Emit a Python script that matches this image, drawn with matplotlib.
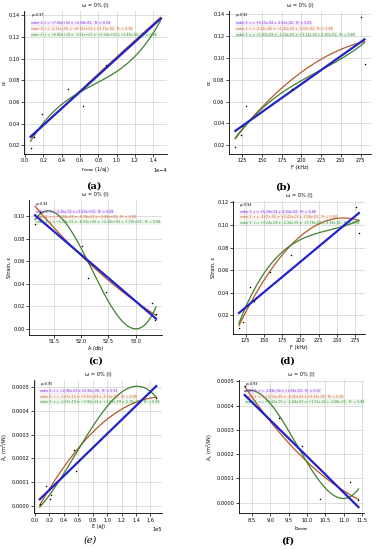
"""
Six polynomial-fit panels (order 1/2/3) for the w = 0% (I) series.
Curves come from np.polyfit through points read along each fitted line.
"""
import numpy as np
import matplotlib
matplotlib.use("Agg")
import matplotlib.pyplot as plt
from matplotlib.ticker import MultipleLocator

TITLE = "ω = 0% (I)"

# --- scatter data (x in plotted units; scale below converts to real units) ---
A_X = [0.06, 0.10, 0.18, 0.47, 0.63, 0.88, 1.48]          # x 1e-4
A_Y = [0.018, 0.028, 0.049, 0.072, 0.056, 0.094, 0.137]
B_X = [116, 123, 125, 130, 188, 276, 280]
B_Y = [0.018, 0.029, 0.038, 0.056, 0.072, 0.137, 0.094]
C_X = [51.16, 51.25, 52.02, 52.13, 52.46, 53.29, 53.35, 53.37]
C_Y = [0.093, 0.104, 0.074, 0.045, 0.033, 0.023, 0.008, 0.013]
D_X = [116, 122, 131, 137, 158, 187, 276, 280]
D_Y = [0.009, 0.014, 0.045, 0.033, 0.058, 0.073, 0.116, 0.093]
E_X = [0.07, 0.15, 0.21, 0.22, 0.55, 0.57, 1.68]           # x 1e5
E_Y = [0.000010, 0.000083, 0.000028, 0.000045, 0.000234, 0.000147, 0.000455]
F_X = [8.30, 9.24, 9.87, 10.35, 11.17, 11.40]
F_Y = [0.000480, 0.000347, 0.000234, 0.000015, 0.000084, 0.000010]

# --- points: (x list, y list) per order ---
A_FIT1 = ([0.06, 1.48], [0.0280, 0.1368])
A_FIT2 = ([0.06, 0.75, 1.48], [0.0270, 0.0820, 0.1379])
A_FIT3 = ([0.06, 0.50, 1.00, 1.48], [0.0237, 0.0640, 0.0880, 0.1350])
B_FIT1 = ([116, 280], [0.0332, 0.1170])
B_FIT2 = ([116, 200, 280], [0.0270, 0.0870, 0.1150])
B_FIT3 = ([116, 160, 225, 280], [0.0260, 0.0600, 0.0890, 0.1140])
C_FIT1 = ([51.16, 53.37], [0.1010, 0.0090])
C_FIT2 = ([51.16, 52.20, 53.37], [0.1090, 0.0560, 0.0120])
C_FIT3 = ([51.40, 52.20, 53.00, 53.35], [0.1050, 0.0525, 0.0000, 0.0173])
D_FIT1 = ([116, 280], [0.0221, 0.1105])
D_FIT2 = ([116, 200, 280], [0.0110, 0.0900, 0.1040])
D_FIT3 = ([116, 150, 225, 280], [0.0130, 0.0570, 0.0930, 0.1040])
E_FIT1 = ([0.07, 1.68], [0.0000277, 0.0005048])
E_FIT2 = ([0.07, 0.80, 1.68], [0.0000030, 0.0003100, 0.0004580])
E_FIT3 = ([0.07, 0.60, 1.00, 1.42, 1.68], [-0.000005, 0.000235, 0.000420, 0.000503, 0.000458])
F_FIT1 = ([8.30, 11.40], [0.0004433, -0.0000186])
F_FIT2 = ([8.30, 10.00, 11.40], [0.000478, 0.000168, 0.000013])
F_FIT3 = ([8.30, 9.30, 10.00, 10.50, 11.05, 11.40],
          [0.000458, 0.000350, 0.000155, 0.000064, 0.000021, 0.000054])

RHO = [0.97, 0.92, 0.94, 0.94, 0.95, 0.93]
R2_A = [0.94, 0.94, 0.96]
R2_B = [0.85, 0.88, 0.89]
R2_C = [0.88, 0.90, 0.94]
R2_D = [0.88, 0.94, 0.94]
R2_E = [0.91, 0.95, 0.96]
R2_F = [0.87, 0.90, 0.94]

X_LABELS = [r"r$_{mean}$ (1/aJ)", "F (kHz)", "A (db)", "F (kHz)", "E (aJ)", r"b$_{mean}$"]
Y_LABELS = ["cc", "cc", "Strain, ε", "Strain, ε",
            r"A$_c$ (m$^2$/kN)", r"A$_c$ (m$^2$/kN)"]
PANEL_TAGS = ["(a)", "(b)", "(c)", "(d)", "(e)", "(f)"]
X_STEPS = [0.2e-4, 25, 0.5, 25, 0.2e5, 0.5]
SCI_X = [True, False, False, False, True, False]

LINE_COLORS = ["#2323c8", "#b35a2c", "#3f7f2f"]
TEXT_COLORS = ["#8a2be2", "#c8642a", "#2f8f2f"]

# axes boxes [left, bottom, width, height] in figure fraction
BOXES = [
    [0.064, 0.720, 0.379, 0.260],
    [0.607, 0.720, 0.377, 0.260],
    [0.077, 0.391, 0.353, 0.245],
    [0.618, 0.393, 0.350, 0.242],
    [0.090, 0.067, 0.340, 0.242],
    [0.634, 0.067, 0.332, 0.242],
]
TAG_POS = [(94, 186), (283, 187), (96, 361), (287, 361), (90, 540), (288, 541)]

FS = 3.6


def fmt(c):
    return f"{c:+.2e}"


def equation(order, coefs, r2):
    powers = {3: " x³ ", 2: " x² ", 1: " x ", 0: ""}
    terms = ""
    deg = len(coefs) - 1
    for k, c in enumerate(coefs):
        terms += fmt(c) + powers[deg - k]
    return f"order {order}: ε = {terms.strip()};  R² = {r2:.2f}"


def draw_panel(fig, i, xs, ys, fits, scale, r2s):
    ax = fig.add_axes(BOXES[i])
    xs = np.array(xs) * scale
    ax.scatter(xs, ys, s=1.2, color="black", zorder=5, linewidths=0)

    labels = []
    for k, (fx, fy) in enumerate(fits):
        order = k + 1
        fx = np.array(fx)
        coefs = np.polyfit(fx, fy, order)
        grid = np.linspace(min(fx.min(), xs.min() / scale), max(fx.max(), xs.max() / scale), 200)
        lw = 1.6 if order == 1 else 0.9
        z = 4 if order == 1 else 3
        ax.plot(grid * scale, np.polyval(coefs, grid), color=LINE_COLORS[k], lw=lw, zorder=z)
        real = [c / scale ** (order - j) for j, c in enumerate(coefs)]
        labels.append(equation(order, real, r2s[k]))

    ax.text(0.05, 0.97, f"ρ={RHO[i]:.2f}", transform=ax.transAxes, fontsize=2.4,
            va="center", color="black")
    for k, lab in enumerate(labels):
        ax.text(0.05, 0.915 - 0.04 * k, lab, transform=ax.transAxes, fontsize=2.3,
                va="center", color=TEXT_COLORS[k],
                bbox=dict(facecolor=TEXT_COLORS[k], alpha=0.08, edgecolor="none", pad=0.4))

    ax.set_title(TITLE, fontsize=FS, pad=3)
    ax.set_xlabel(X_LABELS[i], fontsize=FS, labelpad=1)
    ax.set_ylabel(Y_LABELS[i], fontsize=FS, labelpad=1)
    ax.xaxis.set_major_locator(MultipleLocator(X_STEPS[i]))
    if SCI_X[i]:
        ax.ticklabel_format(style="sci", axis="x", scilimits=(0, 0))
    ax.tick_params(labelsize=FS, length=2, width=0.5, pad=1.2)
    ax.xaxis.get_offset_text().set_fontsize(FS)
    ax.yaxis.get_offset_text().set_fontsize(FS)
    ax.grid(True, color="#d0d0d0", lw=0.5)
    ax.set_axisbelow(True)
    for side in ("top", "right"):
        ax.spines[side].set_visible(False)
    for side in ("left", "bottom"):
        ax.spines[side].set_linewidth(0.6)

    tag = PANEL_TAGS[i]
    tx, ty = TAG_POS[i]
    fig.text(tx / 377, 1 - ty / 550, tag, ha="center", va="center",
             fontsize=7, family="DejaVu Serif",
             fontweight="normal" if tag == "(e)" else "bold",
             style="italic" if tag == "(e)" else "normal")
    return ax


def main():
    fig = plt.figure(figsize=(3.77, 5.5), dpi=100)
    panels = [
        (A_X, A_Y, [A_FIT1, A_FIT2, A_FIT3], 1e-4, R2_A),
        (B_X, B_Y, [B_FIT1, B_FIT2, B_FIT3], 1.0, R2_B),
        (C_X, C_Y, [C_FIT1, C_FIT2, C_FIT3], 1.0, R2_C),
        (D_X, D_Y, [D_FIT1, D_FIT2, D_FIT3], 1.0, R2_D),
        (E_X, E_Y, [E_FIT1, E_FIT2, E_FIT3], 1e5, R2_E),
        (F_X, F_Y, [F_FIT1, F_FIT2, F_FIT3], 1.0, R2_F),
    ]
    for i, (xs, ys, fits, scale, r2s) in enumerate(panels):
        draw_panel(fig, i, xs, ys, fits, scale, r2s)

    fig.savefig("out.png", dpi=100)


if __name__ == "__main__":
    main()
